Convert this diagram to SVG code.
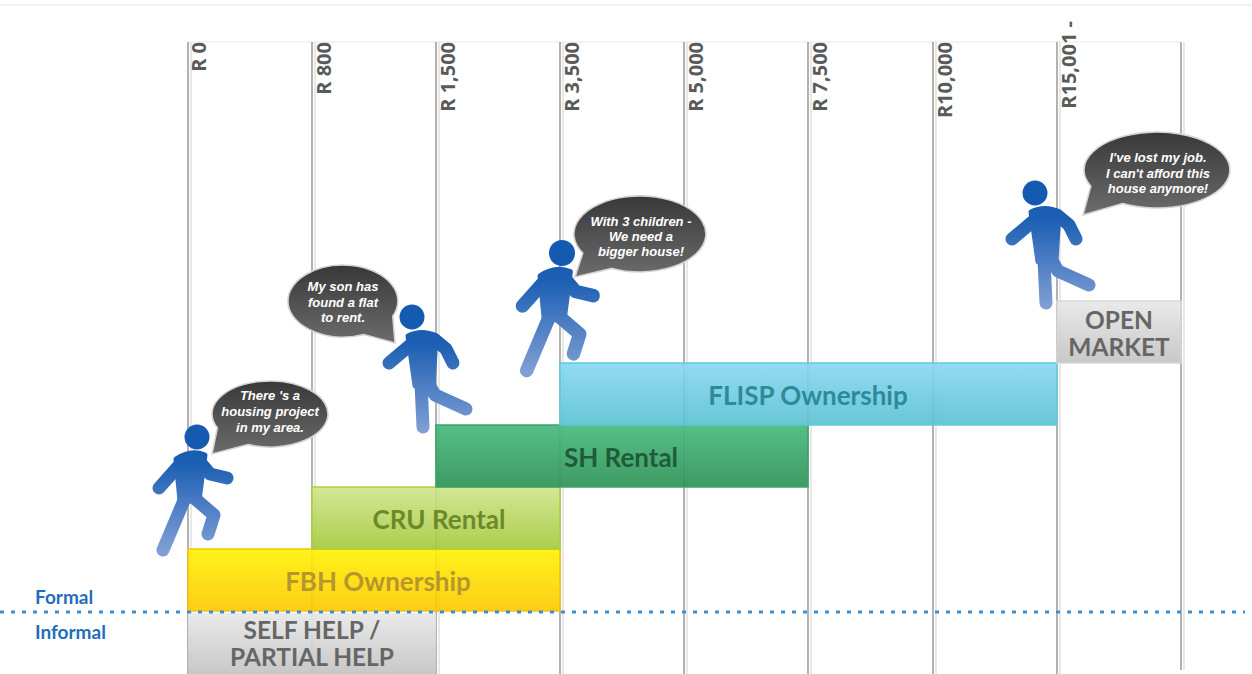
<svg xmlns="http://www.w3.org/2000/svg" xmlns:xlink="http://www.w3.org/1999/xlink" width="1252" height="674" viewBox="0 0 1252 674">
  <style>
    .tick { font-family: "Open Sans", "Liberation Sans", sans-serif; font-weight: 700; font-size: 20px; fill: #5a5a5a; text-anchor: end; }
    .grid { fill: #b2b2b2; }
    .gridShade { fill: #e8e8e8; }
    .barLabel { font-family: Lato, "Liberation Sans", sans-serif; font-weight: 700; font-size: 26px; text-anchor: middle; }
    .boxLabel { font-family: Lato, "Liberation Sans", sans-serif; font-weight: 700; font-size: 24.5px; fill: #666666; text-anchor: middle; }
    .side { font-family: Lato, "Liberation Sans", sans-serif; font-weight: 700; font-size: 19px; fill: #1f6dbb; }
    .bubble { fill: url(#bubbleGrad); stroke: #d4d4d4; stroke-width: 1.6; }
    .say { font-family: "Liberation Sans", Arial, sans-serif; font-weight: 700; font-style: italic; font-size: 13px; fill: #ffffff; text-anchor: middle; }
    .limb { fill: none; stroke: url(#figGrad); stroke-width: 13; stroke-linecap: round; stroke-linejoin: round; }
    .body { fill: url(#figGrad); stroke: url(#figGrad); stroke-width: 5; stroke-linejoin: round; }
  </style>
  <defs>
    <linearGradient id="bubbleGrad" x1="0" y1="0" x2="0" y2="1">
      <stop offset="0" stop-color="#383838"/>
      <stop offset="1" stop-color="#6c6c6c"/>
    </linearGradient>
    <linearGradient id="figGrad" gradientUnits="userSpaceOnUse" x1="0" y1="-12" x2="0" y2="115">
      <stop offset="0" stop-color="#145ab0"/>
      <stop offset="0.3" stop-color="#1c5fb3"/>
      <stop offset="1" stop-color="#819fd5"/>
    </linearGradient>
    <linearGradient id="gYellow" x1="0" y1="0" x2="0" y2="1">
      <stop offset="0" stop-color="#fff200"/>
      <stop offset="1" stop-color="#fdc700"/>
    </linearGradient>
    <linearGradient id="gLime" x1="0" y1="0" x2="0" y2="1">
      <stop offset="0" stop-color="#d0e48a"/>
      <stop offset="1" stop-color="#a3c83a"/>
    </linearGradient>
    <linearGradient id="gGreen" x1="0" y1="0" x2="0" y2="1">
      <stop offset="0" stop-color="#47ba7d"/>
      <stop offset="1" stop-color="#2e9256"/>
    </linearGradient>
    <linearGradient id="gCyan" x1="0" y1="0" x2="0" y2="1">
      <stop offset="0" stop-color="#87d7f3"/>
      <stop offset="1" stop-color="#57c1d1"/>
    </linearGradient>
    <linearGradient id="gGrey" x1="0" y1="0" x2="0" y2="1">
      <stop offset="0" stop-color="#e8e8e8"/>
      <stop offset="1" stop-color="#c3c3c3"/>
    </linearGradient>
    <!-- walking figure, arms back and forward (head centred at origin) -->
    <g id="walkerA">
      <circle cx="0" cy="0" r="12.5" fill="#145ab0"/>
      <path class="body" d="M-21 22 Q-6 12 8 18 L2 64 L-17 64 Z"/>
      <path class="limb" d="M-14 24 L-38 51 M2 24 L13 37 L30 41 M-12 61 L-34 113 M-4 60 L17 78 L11 97"/>
    </g>
    <!-- walking figure, both arms lowered -->
    <g id="walkerB">
      <circle cx="0" cy="0" r="12.5" fill="#145ab0"/>
      <path class="body" d="M-4 19 Q10 12 24 19 L21 69 L3 69 Z"/>
      <path class="limb" d="M2 25 L-23 46 M22 22 L34 32 L41 46 M9 66 L11 110 M16 66 L23 78 L54 92"/>
    </g>
  </defs>

  <rect width="1252" height="674" fill="#ffffff"/>
  <rect x="0" y="4" width="1252" height="2" fill="#f2f2f2"/>
  <rect x="188" y="41" width="993" height="2" fill="#f3f3f3"/>

  <!-- income scale -->
  <g id="scale">
    <rect class="gridShade" x="190" y="42" width="2" height="632"/>
    <rect class="grid" x="187" y="42" width="2" height="632"/>
    <rect class="gridShade" x="314" y="42" width="2" height="632"/>
    <rect class="grid" x="311" y="42" width="2" height="632"/>
    <rect class="gridShade" x="438" y="42" width="2" height="632"/>
    <rect class="grid" x="435" y="42" width="2" height="632"/>
    <rect class="gridShade" x="562" y="42" width="2" height="632"/>
    <rect class="grid" x="559" y="42" width="2" height="632"/>
    <rect class="gridShade" x="686" y="42" width="2" height="632"/>
    <rect class="grid" x="683" y="42" width="2" height="632"/>
    <rect class="gridShade" x="810" y="42" width="2" height="632"/>
    <rect class="grid" x="807" y="42" width="2" height="632"/>
    <rect class="gridShade" x="935" y="42" width="2" height="632"/>
    <rect class="grid" x="932" y="42" width="2" height="632"/>
    <rect class="gridShade" x="1059" y="42" width="2" height="632"/>
    <rect class="grid" x="1056" y="42" width="2" height="632"/>
    <rect class="gridShade" x="1183" y="42" width="2" height="628"/>
    <rect class="grid" x="1180" y="42" width="2" height="628"/>

    <text class="tick" transform="translate(206,42) rotate(-90)">R 0</text>
    <text class="tick" transform="translate(331,42) rotate(-90)">R 800</text>
    <text class="tick" transform="translate(455,42) rotate(-90)">R 1,500</text>
    <text class="tick" transform="translate(579,42) rotate(-90)">R 3,500</text>
    <text class="tick" transform="translate(703,42) rotate(-90)">R 5,000</text>
    <text class="tick" transform="translate(827,42) rotate(-90)">R 7,500</text>
    <text class="tick" transform="translate(952,42) rotate(-90)">R10,000</text>
    <text class="tick" transform="translate(1076,21) rotate(-90)">R15,001 -</text>
  </g>

  <!-- housing options -->
  <g id="bar-self-help">
    <rect x="188" y="613" width="248" height="61" fill="url(#gGrey)" fill-opacity="0.92"/>
    <text class="boxLabel"><tspan x="312" y="639">SELF HELP /</tspan><tspan x="312" y="666">PARTIAL HELP</tspan></text>
  </g>
  <g id="bar-fbh">
    <rect x="188" y="549" width="372" height="62" fill="url(#gYellow)" fill-opacity="0.9" stroke="#f6c20c" stroke-width="1.5"/>
    <text class="barLabel" x="378" y="591" fill="#b8962e">FBH Ownership</text>
  </g>
  <g id="bar-cru">
    <rect x="312" y="487" width="248" height="62" fill="url(#gLime)" fill-opacity="0.9" stroke="#a8d13e" stroke-width="1.5"/>
    <text class="barLabel" x="439" y="529" fill="#6a8a2c">CRU Rental</text>
  </g>
  <g id="bar-sh">
    <rect x="436" y="425" width="372" height="62" fill="url(#gGreen)" fill-opacity="0.92" stroke="#3aa56a" stroke-width="1.5"/>
    <text class="barLabel" x="621" y="467" fill="#1e5c3a">SH Rental</text>
  </g>
  <g id="bar-flisp">
    <rect x="560" y="363" width="497" height="62" fill="url(#gCyan)" fill-opacity="0.9" stroke="#62cbd8" stroke-width="1.5"/>
    <text class="barLabel" x="808" y="405" fill="#2e8a98">FLISP Ownership</text>
  </g>
  <g id="bar-open-market">
    <rect x="1057" y="301" width="124" height="62" fill="url(#gGrey)" fill-opacity="0.92" stroke="#d6d6d6" stroke-width="1.5"/>
    <text class="boxLabel"><tspan x="1119" y="329">OPEN</tspan><tspan x="1119" y="356">MARKET</tspan></text>
  </g>

  <!-- formal / informal divide -->
  <g id="divide">
    <line x1="0" y1="612" x2="1245" y2="612" stroke="#3d8fd4" stroke-width="3" stroke-dasharray="4 7"/>
    <text class="side" x="35" y="604">Formal</text>
    <text class="side" x="35" y="639">Informal</text>
  </g>

  <!-- people moving up the ladder -->
  <g id="person-1">
    <use href="#walkerA" xlink:href="#walkerA" transform="translate(197,437)"/>
    <path class="bubble" d="M248.3 444.6 L212 454 L217.4 427.9 A58 33 0 1 1 248.3 444.6 Z"/>
    <text class="say" x="270" y="400">There 's a</text>
    <text class="say" x="270" y="416">housing project</text>
    <text class="say" x="270" y="432">in my area.</text>
  </g>
  <g id="person-2">
    <use href="#walkerB" xlink:href="#walkerB" transform="translate(412,317)"/>
    <path class="bubble" d="M363.6 334.4 L395 343 L392.8 316.2 A55 36 0 1 0 363.6 334.4 Z"/>
    <text class="say" x="343" y="291">My son has</text>
    <text class="say" x="343" y="306.5">found a flat</text>
    <text class="say" x="343" y="322">to rent.</text>
  </g>
  <g id="person-3">
    <use href="#walkerA" xlink:href="#walkerA" transform="translate(562,253) scale(1.04)"/>
    <path class="bubble" d="M612.1 268.4 L575 277 L582.8 253 A66 38 0 1 1 612.1 268.4 Z"/>
    <text class="say" x="641" y="226">With 3 children -</text>
    <text class="say" x="641" y="241">We need a</text>
    <text class="say" x="641" y="256">bigger house!</text>
  </g>
  <g id="person-4">
    <use href="#walkerB" xlink:href="#walkerB" transform="translate(1035,193)"/>
    <path class="bubble" d="M1122.7 203.6 L1083 215 L1090.8 186.1 A73 38 0 1 1 1122.7 203.6 Z"/>
    <text class="say" x="1158" y="162">I've lost my job.</text>
    <text class="say" x="1158" y="177.5">I can't afford this</text>
    <text class="say" x="1158" y="193">house anymore!</text>
  </g>
</svg>
